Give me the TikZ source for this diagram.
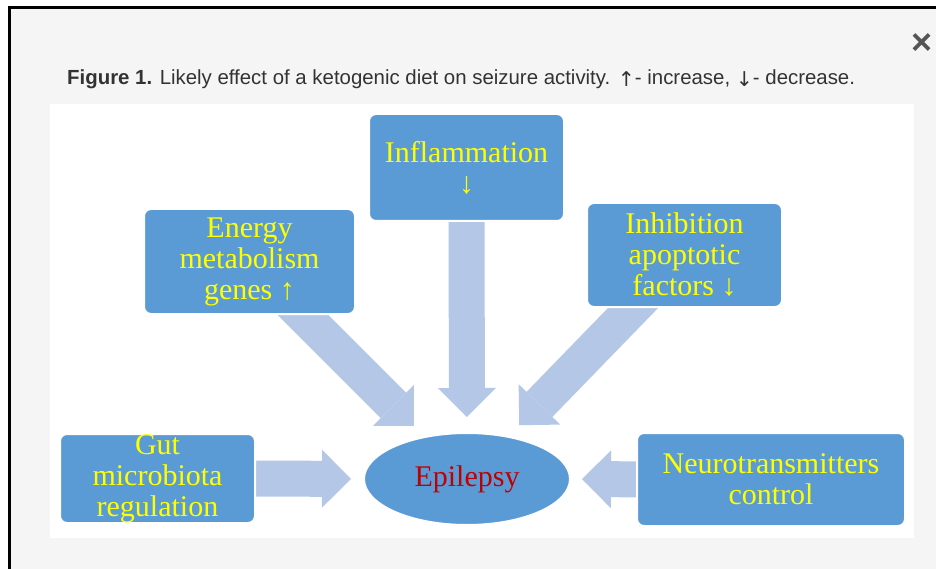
\documentclass[tikz,border=0pt]{standalone}
\usepackage{fontspec}
\setmainfont{Liberation Serif}
\newfontfamily\capfont{Liberation Sans}
\newfontfamily\arrowfont{DejaVu Sans}
\usetikzlibrary{arrows.meta,shapes.geometric}
\definecolor{boxblue}{HTML}{5B9BD5}
\definecolor{arrowblue}{HTML}{B4C7E7}
\definecolor{pagegrey}{HTML}{F5F5F5}
\definecolor{captext}{HTML}{333333}
\definecolor{closegrey}{HTML}{555555}
\definecolor{epired}{HTML}{C00000}
\definecolor{boxtext}{HTML}{FFFF00}
\pgfdeclarelayer{back}
\pgfdeclarelayer{mid}
\pgfsetlayers{back,mid,main}
\tikzset{
    factor/.style={rectangle, rounded corners=7pt, fill=boxblue, draw=white, line width=2pt,
        inner sep=0pt, align=center, text=boxtext, font=\fontsize{30}{31}\selectfont},
    bigarrow/.style={arrowblue, line width=36pt, -{Triangle[width=58pt,length=29pt,line width=0pt]}},
}

\begin{document}
\begin{tikzpicture}[x=1pt,y=-1pt]
        \useasboundingbox (0,0) rectangle (936,569);
        \begin{pgfonlayer}{back}
            \fill[white] (0,0) rectangle (936,569);
            \fill[pagegrey] (8,6) rectangle (936,569);
            \draw[line width=3pt] (9.5,569) -- (9.5,7.5) -- (936,7.5);
            \fill[white] (50,104) rectangle (914,538);
        \end{pgfonlayer}
        \node[anchor=base west, inner sep=0pt, text=captext, font=\capfont\fontsize{20.4}{24}\selectfont] (caption) at (67,85)
            {\textbf{Figure 1.} Likely effect of a ketogenic diet on seizure activity. {\arrowfont\raisebox{-1.5pt}{↑}}- increase, {\arrowfont\raisebox{-1.5pt}{↓}}- decrease.};
        \node[inner sep=0pt, text=closegrey, font=\capfont\bfseries\fontsize{36}{36}\selectfont] (close) at (922,44) {×};
        \node[factor, minimum width=195pt, minimum height=107pt] (infl) at (466.5,167.5) {Inflammation\\↓};
        \node[factor, minimum width=211pt, minimum height=105pt] (energy) at (249.5,261.5) {Energy\\metabolism\\genes ↑};
        \node[factor, minimum width=195pt, minimum height=104pt] (inhib) at (684.5,255) {Inhibition\\apoptotic\\factors ↓};
        \node[factor, minimum width=195pt, minimum height=89pt] (gut) at (157.5,478.5) {Gut\\microbiota\\regulation};
        \node[factor, minimum width=268pt, minimum height=93pt] (neuro) at (771,479.5) {Neurotransmitters\\control};
        \node[factor, ellipse, minimum width=206pt, minimum height=92pt, text=epired] (epi) at (467,479) {Epilepsy};
        \begin{pgfonlayer}{mid}
            \draw[bigarrow, shorten >=62pt] (infl.center) -- (epi.center);
            \draw[bigarrow, shorten >=75pt] (energy.center) -- (epi.center);
            \draw[bigarrow, shorten >=75pt] (inhib.center) -- (epi.center);
            \draw[bigarrow, shorten >=116pt] (gut.center) -- (epi.center);
            \draw[bigarrow, shorten >=115pt] (neuro.center) -- (epi.center);
        \end{pgfonlayer}
    \end{tikzpicture}
\end{document}
